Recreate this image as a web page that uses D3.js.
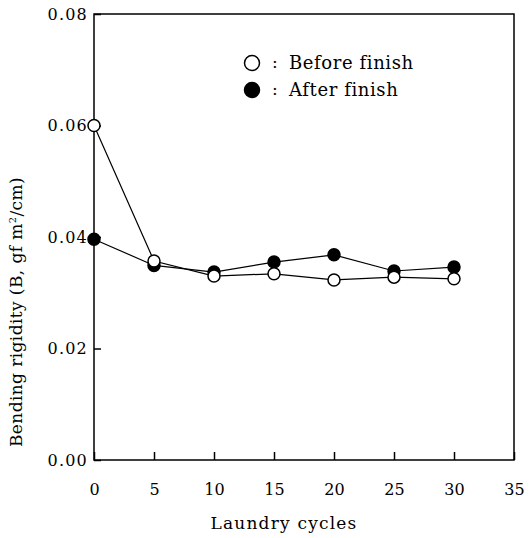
<!DOCTYPE html>
<html>
<head>
<meta charset="utf-8">
<script src="https://cdn.jsdelivr.net/npm/d3@7"></script>
<style>
  body { margin: 0; background: #fff; }
  text { font-family: "DejaVu Serif", serif; fill: #000; }
</style>
</head>
<body>
<div id="chart"></div>
<script>
// values
const cycles = [0, 5, 10, 15, 20, 25, 30];
const beforeFinish = [0.0600, 0.0357, 0.0330, 0.0334, 0.0323, 0.0328, 0.0325];
const afterFinish = [0.0396, 0.0349, 0.0337, 0.0355, 0.0368, 0.0339, 0.0346];
const xTicks = [0, 5, 10, 15, 20, 25, 30, 35];
const yTicks = [0, 0.02, 0.04, 0.06, 0.08];
const legendLabels = ['Before finish', 'After finish'];

const width = 529, height = 538;
const margin = {top: 14, right: 15, bottom: 78, left: 94};

const svg = d3.select('#chart').append('svg')
    .attr('width', width)
    .attr('height', height);

const x = d3.scaleLinear().domain([0, 35]).range([margin.left, width - margin.right]);
const y = d3.scaleLinear().domain([0, 0.08]).range([height - margin.bottom, margin.top]);

// frame
svg.append('rect')
    .attr('x', x(0)).attr('y', y(0.08))
    .attr('width', x(35) - x(0)).attr('height', y(0) - y(0.08))
    .attr('fill', 'none').attr('stroke', '#000').attr('stroke-width', 1.5);

const xAxis = svg.append('g')
    .attr('transform', `translate(0,${y(0)})`)
    .call(d3.axisBottom(x).tickValues(xTicks).tickSize(-8).tickPadding(24).tickFormat(d3.format('d')));
xAxis.select('.domain').remove();
xAxis.selectAll('line').attr('stroke', '#000').attr('stroke-width', 1.5);
xAxis.selectAll('text').attr('font-size', 16).attr('fill', '#000');

const yAxis = svg.append('g')
    .attr('transform', `translate(${x(0)},0)`)
    .call(d3.axisLeft(y).tickValues(yTicks).tickSize(-7).tickPadding(6).tickFormat(d3.format('.2f')));
yAxis.select('.domain').remove();
yAxis.selectAll('line').attr('stroke', '#000').attr('stroke-width', 1.5);
yAxis.selectAll('text').attr('font-size', 16).attr('letter-spacing', 1.2).attr('fill', '#000');

// axis titles
svg.append('text')
    .attr('x', 284).attr('y', 529)
    .attr('text-anchor', 'middle')
    .attr('font-size', 17)
    .attr('letter-spacing', 1.2)
    .text('Laundry cycles');

svg.append('text')
    .attr('transform', 'translate(22,312) rotate(-90)')
    .attr('text-anchor', 'middle')
    .attr('font-size', 17)
    .attr('letter-spacing', 0.4)
    .html('Bending rigidity (B, gf m<tspan dy="-6" font-size="10">2</tspan><tspan dy="6">/cm)</tspan>');

const line = d3.line()
    .x((d, i) => x(cycles[i]))
    .y(d => y(d));

const series = [
    {values: afterFinish, fill: '#000'},
    {values: beforeFinish, fill: '#fff'}
];

series.forEach(s => {
    svg.append('path')
        .datum(s.values)
        .attr('d', line)
        .attr('fill', 'none')
        .attr('stroke', '#000')
        .attr('stroke-width', 1.2);
});

series.forEach(s => {
    svg.selectAll(null)
        .data(s.values)
        .enter()
        .append('circle')
        .attr('cx', (d, i) => x(cycles[i]))
        .attr('cy', d => y(d))
        .attr('r', 6)
        .attr('fill', s.fill)
        .attr('stroke', '#000')
        .attr('stroke-width', 1.5);
});

// legend
const legend = svg.append('g');
const legendFills = ['#fff', '#000'];
legendLabels.forEach((label, i) => {
    const ly = 63 + i * 27;
    legend.append('circle')
        .attr('cx', 252).attr('cy', ly)
        .attr('r', 7.5)
        .attr('fill', legendFills[i])
        .attr('stroke', '#000')
        .attr('stroke-width', 1.5);
    legend.append('text')
        .attr('x', 272).attr('y', ly + 5)
        .attr('font-size', 17)
        .text(':');
    legend.append('text')
        .attr('x', 289).attr('y', ly + 6)
        .attr('font-size', 18)
        .attr('letter-spacing', 0.6)
        .text(label);
});
</script>
</body>
</html>
